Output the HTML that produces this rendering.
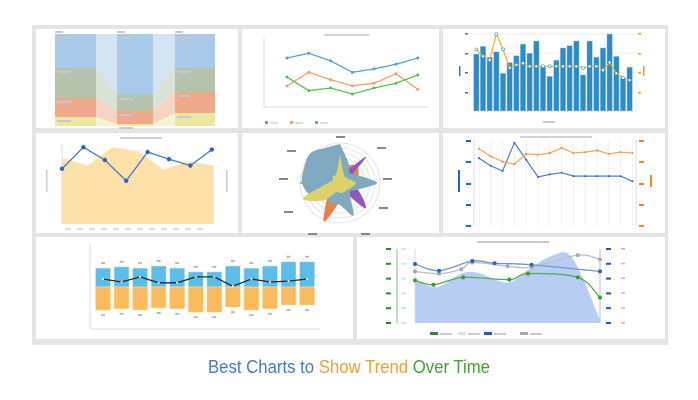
<!DOCTYPE html>
<html><head><meta charset="utf-8"><style>
html,body{margin:0;padding:0;background:#fff;}
svg{display:block;font-family:"Liberation Sans",sans-serif;}
</style></head><body>
<svg id="s" width="698" height="400" viewBox="0 0 698 400" xmlns="http://www.w3.org/2000/svg">
<rect x="32" y="25" width="636" height="320" fill="#e4e4e4"/>
<rect x="36" y="29" width="202" height="99" fill="#fff"/>
<rect x="242" y="29" width="197" height="99" fill="#fff"/>
<rect x="443" y="29" width="222" height="99" fill="#fff"/>
<rect x="36" y="133" width="202" height="100" fill="#fff"/>
<rect x="242" y="133" width="197" height="100" fill="#fff"/>
<rect x="443" y="133" width="222" height="100" fill="#fff"/>
<rect x="36" y="237" width="317" height="102" fill="#fff"/>
<rect x="357" y="237" width="308" height="102" fill="#fff"/>
<g id="g"></g>
<text x="349" y="373" text-anchor="middle" font-size="18" textLength="282" lengthAdjust="spacingAndGlyphs"><tspan fill="#4a78c4">Best Charts to </tspan><tspan fill="#f0a030">Show Trend </tspan><tspan fill="#4b9a3c">Over Time</tspan></text>
</svg>
<script>
// ---- Panel B: line chart data
const lineCats = [0,1,2,3,4,5,6];
const lineBlue = [72,79,68,51,56,63,72];
const lineOrange = [31,51,40,31,35,49,26];
const lineGreen = [44,24,28,19,28,35,47];
// ---- Panel C: bars + line
const barVals = [74,84,70,77,49,63,72,87,75,91,57,45,66,82,85,91,47,91,70,82,100,71,43,57];
const barLine = [80,71,66,100,80,56,60,62,58,58,58,58,58,58,58,58,56,58,58,53,63,49,43,40];
// ---- Panel D: area + line
const areaVals = [83,73,96,91,68,78,73];
const areaLineVals = [69,96,80,54,90,81,73,93];
// ---- Panel E: radar (16 directions)
const radarBlue = [39,22,14,20,37,18,14,35,22,22,22,32,38,39,42,38];
const radarYellow = [28,10,8,10,16,12,10,10,10,10,25,40,12,8,10,10];
const radarOrange = [5,18,24,20,15,14,10,12,18,42,18,14,40,16,10,8];
const radarPurple = [4,10,37,8,6,20,36,8,4,4,4,4,4,4,4,4];
// ---- Panel F: dual axis lines
const dualBlue = [80,71,65,98,78,58,61,63,59,59,59,59,59,53];
const dualOrange = [91,82,76,73,85,84,86,92,86,87,89,85,87,86];
// ---- Panel G: diverging bars
const divPos = [45,48,45,50,45,36,36,50,45,50,60,60];
const divNeg = [55,52,55,50,52,60,60,48,55,52,43,43];
const divLine = [19,12,24,10,10,24,24,2,19,12,14,19];
// ---- Panel H: spline series (t = time 0..100)
const areaT = [0,12,25,34,50,61,74,85,100];
const areaV = [57,48,66,67,54,71,90,87,4];
const blueT = [0,13,31,43,63,100];
const blueV = [79,70,83,80,78,69];
const grayT = [0,13,25,31,50,63,88,100];
const grayV = [69,66,72,81,76,75,91,85];
const greenT = [0,10,26,51,61,88,100];
const greenV = [57,51,61,58,66,61,34];

const NS = "http://www.w3.org/2000/svg";
const G = document.getElementById('g');
function mk(tag, attrs, name) {
  const e = document.createElementNS(NS, tag);
  for (const k in attrs) e.setAttribute(k, attrs[k]);
  
  
  G.appendChild(e);
  return e;
}
function poly(pts){return pts.map(p=>p[0].toFixed(1)+','+p[1].toFixed(1)).join(' ');}
function spline(pts){
  let d='M'+pts[0][0]+','+pts[0][1];
  for(let i=0;i<pts.length-1;i++){
    const p0=pts[i-1]||pts[i],p1=pts[i],p2=pts[i+1],p3=pts[i+2]||p2;
    const c1=[p1[0]+(p2[0]-p0[0])/6,p1[1]+(p2[1]-p0[1])/6];
    const c2=[p2[0]-(p3[0]-p1[0])/6,p2[1]-(p3[1]-p1[1])/6];
    d+=' C'+c1[0]+','+c1[1]+' '+c2[0]+','+c2[1]+' '+p2[0]+','+p2[1];
  }
  return d;
}
function dash(x,y,w,name,c){mk('rect',{x:x,y:y,width:w,height:2,fill:c||'#c8c8c8'},name);}

// ===== Panel A: sankey (static structure)
const sk=[['#a9c9e8',34,68,34,95,34,68],['#b5c3ac',68,98,95,111,68,92],['#f0a88a',98,117,111,124,92,113],['#ebe8a2',117,126,124,126,113,126]];
sk.forEach((b,i)=>{
  mk('polygon',{points:poly([[96,b[1]],[117,b[3]],[117,b[4]],[96,b[2]]]),fill:b[0],opacity:0.5},'sankey-flow-a-'+i);
  mk('polygon',{points:poly([[153,b[3]],[175,b[5]],[175,b[6]],[153,b[4]]]),fill:b[0],opacity:0.5},'sankey-flow-b-'+i);
  mk('rect',{x:55,y:b[1],width:41,height:b[2]-b[1],fill:b[0]},'sankey-node-1-'+i);
  mk('rect',{x:117,y:b[3],width:36,height:b[4]-b[3],fill:b[0]},'sankey-node-2-'+i);
  mk('rect',{x:175,y:b[5],width:40,height:b[6]-b[5],fill:b[0]},'sankey-node-3-'+i);
  dash(57,b[1]+3,14,'sankey-label');dash(119,b[3]+3,14,'sankey-label');dash(177,b[5]+3,14,'sankey-label');
});
dash(55,31,8,'sankey-col-label');dash(117,31,8,'sankey-col-label');dash(175,31,8,'sankey-col-label');

// ===== Panel B
const bX=i=>287+i*21.8, bY=v=>107-v*0.68;
mk('line',{x1:264,y1:38,x2:264,y2:107,stroke:'#ddd'},'line-y-axis');
mk('line',{x1:264,y1:107,x2:428,y2:107,stroke:'#ddd'},'line-x-axis');
dash(324,34,45,'line-chart-title','#d4d4d4');
[[lineBlue,'#5a9fd0','blue'],[lineOrange,'#f0a070','orange'],[lineGreen,'#55c055','green']].forEach(([s,c,n],k)=>{
  mk('polyline',{points:poly(s.map((v,i)=>[bX(lineCats[i]),bY(v)])),fill:'none',stroke:c,'stroke-width':1.3},'line-series-'+n);
  s.forEach((v,i)=>mk('circle',{cx:bX(lineCats[i]),cy:bY(v),r:1.5,fill:c},'point-'+n));
  mk('rect',{x:265+k*25,y:121,width:3,height:3,fill:c},'legend-marker-'+n);
  dash(270+k*25,122,8,'legend-label-'+n,'#ddd');
});

// ===== Panel C
const cX=i=>473+(i+0.5)*160/24, cY=v=>111-v*0.77;
for(let i=0;i<5;i++)mk('line',{x1:473,y1:34+i*19.3,x2:636,y2:34+i*19.3,stroke:'#eee'},'bar-gridline');
barVals.forEach((v,i)=>mk('rect',{x:cX(i)-2.8,y:cY(v),width:5.6,height:111-cY(v),fill:'#2e8bc6',stroke:'#bfe0f5','stroke-width':0.5},'bar-'+i));
mk('polyline',{points:poly(barLine.map((v,i)=>[cX(i),cY(v)])),fill:'none',stroke:'#f0b020','stroke-width':1.2},'bar-overlay-line');
barLine.forEach((v,i)=>mk('circle',{cx:cX(i),cy:cY(v),r:1.5,fill:'#fff',stroke:'#2e8bc6','stroke-width':0.6},'overlay-point'));
[34,54,73,93].forEach(y=>{mk('rect',{x:465,y:y-1,width:3,height:1.5,fill:'#2e7bbf'},'left-tick');mk('rect',{x:638,y:y-1,width:3,height:1.5,fill:'#f0a020'},'right-tick');});
mk('rect',{x:459,y:66,width:1.5,height:10,fill:'#2e7bbf'},'left-axis-title');
mk('rect',{x:643,y:66,width:1.5,height:10,fill:'#f0a020'},'right-axis-title');
dash(543,121,12,'bar-x-axis-title');

// ===== Panel D
const dX=i=>62+i*25.3, dLX=i=>62+i*21.4, dY=v=>224-v*0.8;
mk('polygon',{points:poly([[dX(0),224]].concat(areaVals.map((v,i)=>[dX(i),dY(v)]),[[dX(6),224]])),fill:'#fde1a8'},'area-series');
mk('line',{x1:62,y1:144,x2:62,y2:224,stroke:'#ddd'},'area-y-axis');
mk('polyline',{points:poly(areaLineVals.map((v,i)=>[dLX(i),dY(v)])),fill:'none',stroke:'#3c6fcc','stroke-width':1.2},'area-overlay-line');
areaLineVals.forEach((v,i)=>mk('circle',{cx:dLX(i),cy:dY(v),r:2.2,fill:'#2f62c8'},'area-line-point'));
dash(120,137,42,'area-chart-title','#d0d0d0');
mk('rect',{x:46,y:170,width:1.5,height:22,fill:'#ccc'},'area-y-title');
mk('rect',{x:226,y:170,width:1.5,height:22,fill:'#ccc'},'area-y2-title');
for(let i=0;i<12;i++)dash(65+i*12,228,6,'area-x-label','#ddd');

// ===== Panel E: radar
const cx=340, cy=183;
for(let r=15;r<=40;r+=5)mk('circle',{cx:cx,cy:cy,r:r,fill:'none',stroke:'#e4e4e4'},'radar-ring');
function rp(arr){return arr.map((v,i)=>{const a=i*Math.PI/8;return [cx+v*Math.sin(a),cy-v*Math.cos(a)];});}
[[radarOrange,'#e8804a','orange'],[radarPurple,'#9257b8','purple'],[radarBlue,'#7ea9bf','blue'],[radarYellow,'#dcd16a','yellow']].forEach(([s,c,n])=>
  mk('path',{d:spline(rp(s).concat([rp(s)[0]])),fill:c},'radar-series-'+n));
[[340,136],[291,150],[283,178],[288,211],[312,233],[365,233],[383,207],[387,178],[381,147]].forEach(p=>dash(p[0]-4,p[1],9,'radar-axis-label','#888'));

// ===== Panel F
const fX=i=>479+i*11.8, fY=v=>226.7-v*0.857;
for(let i=0;i<14;i++)mk('line',{x1:fX(i),y1:140,x2:fX(i),y2:226,stroke:'#f0f0f0'},'dual-gridline');
mk('line',{x1:474,y1:140,x2:474,y2:226,stroke:'#ddd'},'dual-left-axis');
mk('line',{x1:636,y1:140,x2:636,y2:226,stroke:'#ddd'},'dual-right-axis');
mk('polyline',{points:poly(dualBlue.map((v,i)=>[fX(i),fY(v)])),fill:'none',stroke:'#4a7fd0','stroke-width':1.2},'dual-blue-line');
mk('polyline',{points:poly(dualOrange.map((v,i)=>[fX(i),fY(v)])),fill:'none',stroke:'#f5a55a','stroke-width':1.2},'dual-orange-line');
dualBlue.forEach((v,i)=>mk('circle',{cx:fX(i),cy:fY(v),r:1,fill:'#2d5fc0'},'dual-blue-point'));
dualOrange.forEach((v,i)=>mk('circle',{cx:fX(i),cy:fY(v),r:1,fill:'#f08a20'},'dual-orange-point'));
dash(520,136,72,'dual-title','#d0d0d0');
[141,162,184,205,226].forEach(y=>{mk('rect',{x:466,y:y-1,width:5,height:2,fill:'#2560c8'},'dual-left-tick');mk('rect',{x:639,y:y-1,width:5,height:2,fill:'#f08a20'},'dual-right-tick');});
mk('rect',{x:458,y:170,width:2,height:22,fill:'#2560c8'},'dual-left-title');
mk('rect',{x:650,y:175,width:2,height:12,fill:'#f08a20'},'dual-right-title');

// ===== Panel G
const gX=i=>103+i*18.55, gY=v=>287-v*0.42;
mk('line',{x1:90,y1:244,x2:90,y2:329,stroke:'#ddd'},'div-y-axis');
mk('line',{x1:90,y1:329,x2:320,y2:329,stroke:'#ddd'},'div-x-axis');
divPos.forEach((v,i)=>{mk('rect',{x:gX(i)-7.5,y:gY(v),width:15,height:287-gY(v),fill:'#5bbde8',stroke:'#cdeaf7','stroke-width':0.6},'div-bar-positive');dash(gX(i)-2,gY(v)-6,4,'div-label','#bbb');});
divNeg.forEach((v,i)=>{mk('rect',{x:gX(i)-7.5,y:287,width:15,height:gY(-v)-287,fill:'#fbbb5c',stroke:'#fde0b0','stroke-width':0.6},'div-bar-negative');dash(gX(i)-2,gY(-v)+4,4,'div-label','#bbb');});
mk('polyline',{points:poly(divLine.map((v,i)=>[gX(i),gY(v)])),fill:'none',stroke:'#1f2a33','stroke-width':1.3},'div-line');
divLine.forEach((v,i)=>mk('circle',{cx:gX(i),cy:gY(v),r:1,fill:'#fff'},'div-line-point'));

// ===== Panel H
const hX=t=>415+t*1.85, hY=v=>322.7-v*0.743;
const hp=(T,V)=>T.map((t,i)=>[hX(t),hY(V[i])]);
mk('path',{d:spline(hp(areaT,areaV))+' L'+hX(100)+',323 L'+hX(0)+',323 Z',fill:'#b7cdf2'},'spline-area');
mk('line',{x1:415,y1:249,x2:415,y2:323,stroke:'#cfe0cf'},'h-left-axis');
mk('line',{x1:600,y1:249,x2:600,y2:323,stroke:'#aac2ea'},'h-right-axis');
[[grayT,grayV,'#bdbdbd','gray'],[blueT,blueV,'#6e95d8','blue'],[greenT,greenV,'#58a658','green']].forEach(([T,V,c,n])=>{
  mk('path',{d:spline(hp(T,V)),fill:'none',stroke:c,'stroke-width':1.3},'spline-'+n);
  hp(T,V).forEach(p=>mk('circle',{cx:p[0],cy:p[1],r:2,fill:n==='blue'?'#2f62c8':n==='green'?'#3c9a3c':'#aaa'},'spline-point-'+n));
});
for(let i=0;i<6;i++){const y=249+i*14.8;
  mk('rect',{x:386,y:y-1,width:5,height:2,fill:'#2f8a2f'},'h-green-tick');
  mk('rect',{x:401,y:y-1,width:5,height:2,fill:'#d4e3f7'},'h-lightblue-tick');
  mk('rect',{x:606,y:y-1,width:5,height:2,fill:'#2458c0'},'h-blue-tick');
  mk('rect',{x:621,y:y-1,width:4,height:1.5,fill:'#bbb'},'h-gray-tick');}
mk('line',{x1:397,y1:249,x2:397,y2:323,stroke:'#7cc07c'},'h-green-axis');
dash(477,241,72,'h-title','#c8c8c8');
[[430,'#2f8a2f'],[458,'#d4e3f7'],[484,'#2458c0'],[520,'#aaa']].forEach((l,i)=>{mk('rect',{x:l[0],y:332,width:8,height:3,fill:l[1]},'h-legend-marker');dash(l[0]+10,333,12,'h-legend-label','#ccc');});
</script>
</body></html>
